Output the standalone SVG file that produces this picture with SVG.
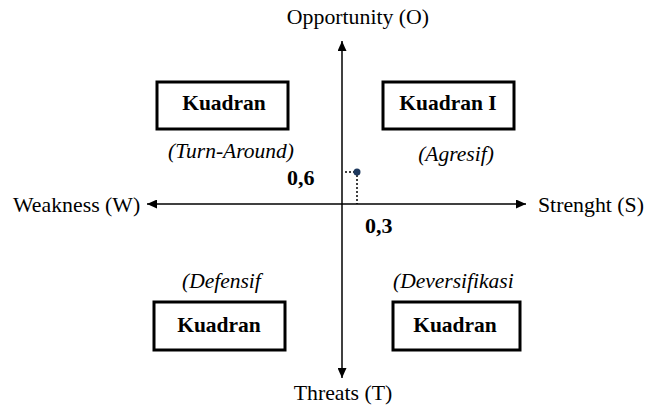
<svg xmlns="http://www.w3.org/2000/svg" width="659" height="406" viewBox="0 0 659 406">
<defs>
<marker id="ah" viewBox="0 0 10 10" refX="10" refY="5" markerWidth="10" markerHeight="9" markerUnits="userSpaceOnUse" orient="auto" preserveAspectRatio="none">
<path d="M0,0 L10,5 L0,10 Z" fill="#000"/>
</marker>
</defs>
<style>
text{font-family:"Liberation Serif","DejaVu Serif",serif;fill:#000}
.ax{font-size:21.8px}
.kb{font-size:21.5px;font-weight:bold;text-anchor:middle}
.it{font-size:21.5px;font-style:italic}
.num{font-size:22px;font-weight:bold}
.box{fill:#fff;stroke:#000;stroke-width:3}
.axis{stroke:#000;stroke-width:1.5;fill:none}
.dot{stroke:#000;stroke-width:1.5;stroke-dasharray:2,2;fill:none}
</style>
<rect width="659" height="406" fill="#fff"/>
<g id="connectors">
<line class="axis" x1="342" y1="204" x2="342" y2="41" marker-end="url(#ah)"/>
<line class="axis" x1="342" y1="204" x2="342" y2="378" marker-end="url(#ah)"/>
<line class="axis" x1="342" y1="204" x2="147" y2="204" marker-end="url(#ah)"/>
<line class="axis" x1="342" y1="204" x2="526" y2="204" marker-end="url(#ah)"/>
<line class="dot" x1="345" y1="172" x2="355" y2="172"/>
<line class="dot" x1="357" y1="175" x2="357" y2="204"/>
<circle cx="357" cy="172" r="3.5" fill="#1f3a5f"/>
</g>
<g id="labels">
<text class="ax" x="358" y="24" text-anchor="middle">Opportunity (O)</text>
<text class="ax" x="343" y="400" text-anchor="middle">Threats (T)</text>
<text class="ax" x="13" y="212">Weakness (W)</text>
<text class="ax" x="538" y="212">Strenght (S)</text>
<text class="num" x="287" y="185">0,6</text>
<text class="num" x="365" y="233">0,3</text>
</g>
<g id="q2">
<rect class="box" x="157" y="82" width="131" height="47"/>
<text class="kb" x="224" y="110">Kuadran</text>
<text class="it" x="231" y="158" text-anchor="middle">(Turn-Around)</text>
</g>
<g id="q1">
<rect class="box" x="383" y="82" width="131" height="47"/>
<text class="kb" x="448" y="110">Kuadran I</text>
<text class="it" x="456" y="161" text-anchor="middle">(Agresif)</text>
</g>
<g id="q3">
<rect class="box" x="154" y="302" width="131" height="48"/>
<text class="kb" x="219" y="332">Kuadran</text>
<text class="it" x="182" y="288">(Defensif</text>
</g>
<g id="q4">
<rect class="box" x="393" y="302" width="127" height="48"/>
<text class="kb" x="455" y="332">Kuadran</text>
<text class="it" x="393" y="288">(Deversifikasi</text>
</g>
</svg>
